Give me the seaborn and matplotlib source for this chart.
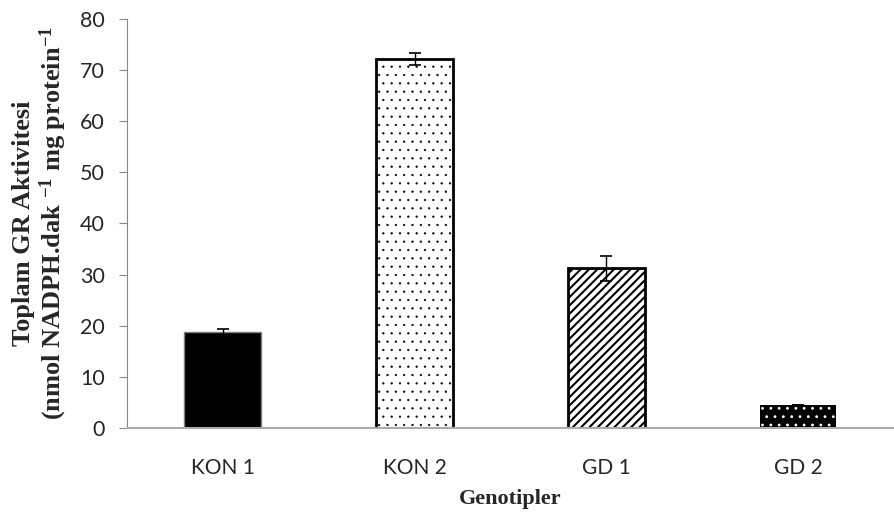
import numpy as np
import pandas as pd
import matplotlib
matplotlib.use("Agg")
import matplotlib.pyplot as plt
import seaborn as sns

genotypes = ["KON 1", "KON 2", "GD 1", "GD 2"]
gr_activity = [18.8, 72.1, 31.2, 4.5]
gr_err = [0.6, 1.2, 2.5, 0.0]

sns.set_style("white")
plt.rcParams["font.family"] = ["Lato", "DejaVu Sans"]
plt.rcParams["mathtext.fontset"] = "custom"
plt.rcParams["mathtext.rm"] = "Liberation Serif:bold"
plt.rcParams["mathtext.default"] = "rm"

df = pd.DataFrame({"Genotip": genotypes, "GR": gr_activity})

fig = plt.figure(figsize=(8.94, 5.13), dpi=100)
ax = fig.add_axes([0.142, 0.166, 0.858, 0.797])

sns.barplot(data=df, x="Genotip", y="GR", color="white", width=0.4, ax=ax)

# styles per bar: face, edge, hatch, edge width, hatch width
styles = [
    ("black", "#7f7f7f", None, 1.0, 1.0),
    ("white", "black", "..", 2.0, 0.4),
    ("white", "black", "////", 2.0, 1.5),
    ("black", "white", "..", 0.0, 0.8),
]
for bar, (fc, ec, h, lw, hlw) in zip(ax.patches, styles):
    bar.set_facecolor(fc)
    bar.set_edgecolor(ec)
    bar.set_linewidth(lw)
    if h:
        bar.set_hatch(h)
    if hasattr(bar, "set_hatch_linewidth"):
        bar.set_hatch_linewidth(hlw)

ax.errorbar(x=np.arange(len(genotypes)), y=gr_activity, yerr=gr_err,
            fmt="none", ecolor="black", elinewidth=1.0, capsize=4.5, capthick=1.2)

ax.set_ylim(0, 80)
ax.set_xlim(-0.5, 3.5)
ax.set_yticks(range(0, 81, 10))
ax.tick_params(axis="y", left=True, length=6, color="#888888", labelsize=15.5, pad=10)
ax.tick_params(axis="x", bottom=False, labelsize=15, pad=18)
for side in ["top", "right"]:
    ax.spines[side].set_visible(False)
ax.spines["left"].set_color("#888888")
ax.spines["bottom"].set_color("#aaaaaa")
ax.spines["bottom"].set_linewidth(1.5)

ax.set_xlabel("Genotipler", family="Liberation Serif", fontweight="bold", fontsize=16, labelpad=8)
ax.set_ylabel("Toplam GR Aktivitesi\n(nmol NADPH.dak $^{-1}$ mg protein$^{-1}$",
              family="Liberation Serif", fontweight="bold", fontsize=19, labelpad=8,
              linespacing=1.1)

fig.savefig("out.png", dpi=100)
